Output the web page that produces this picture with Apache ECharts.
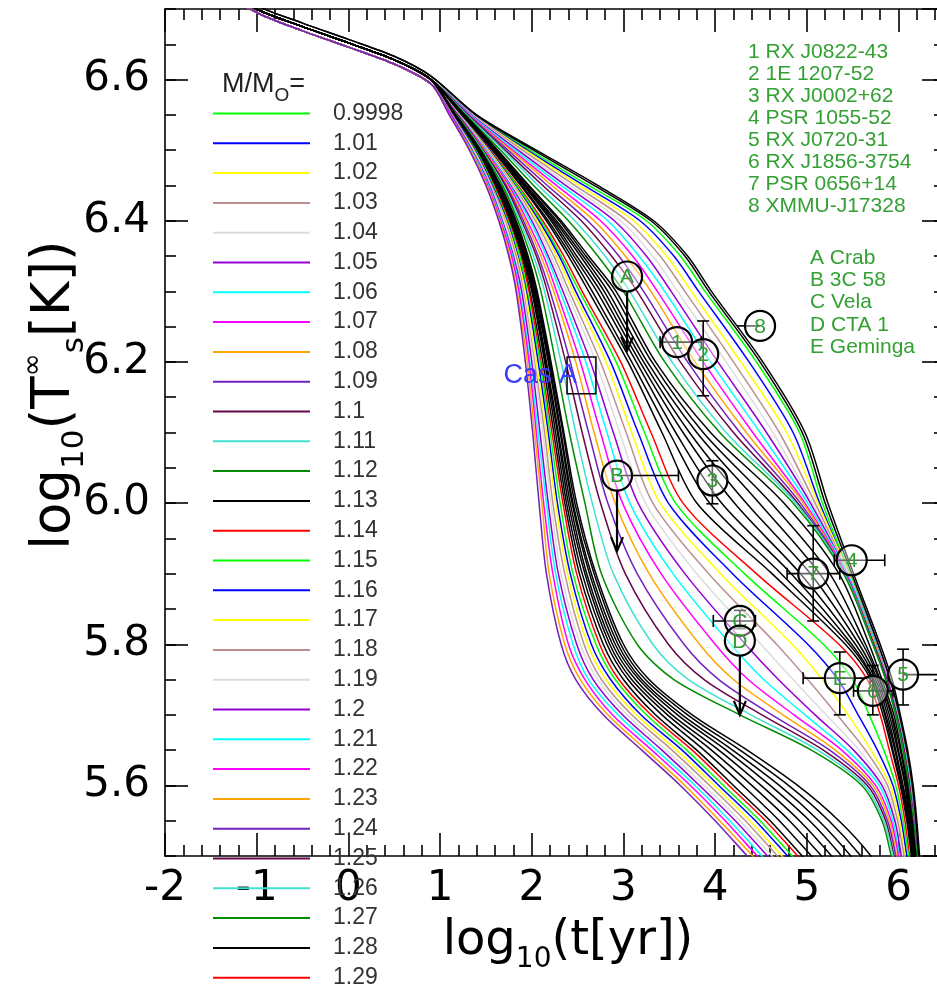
<!DOCTYPE html>
<html>
<head>
<meta charset="utf-8">
<script src="https://cdn.jsdelivr.net/npm/echarts@6/dist/echarts.min.js"></script>
<style>
  html, body { margin: 0; padding: 0; background: #ffffff; }
  #chart { width: 937px; height: 984px; }
</style>
</head>
<body>
<div id="chart"></div>
<script>
// Stellar masses of the cooling tracks (legend order)
const massLabels = ['0.9998','1.01','1.02','1.03','1.04','1.05','1.06','1.07','1.08','1.09',
  '1.1','1.11','1.12','1.13','1.14','1.15','1.16','1.17','1.18','1.19',
  '1.2','1.21','1.22','1.23','1.24','1.25','1.26','1.27','1.28','1.29',
  '1.3','1.31','1.32','1.33','1.34','1.35','1.36','1.37','1.38','1.39'];

// Grace-style colour cycle used for successive tracks
const colorCycle = ['#00ff00','#0000ff','#ffff00','#bc8f8f','#dcdcdc','#9400d3','#00ffff',
  '#ff00ff','#ffa500','#7221bc','#670748','#40e0d0','#008b00','#000000','#ff0000'];

// Axis tick values
const xMajorTicks = [-2, -1, 0, 1, 2, 3, 4, 5, 6];

// Surface temperature levels, log10(Ts) [K]
const tempLevels = [6.55, 6.50, 6.45, 6.40, 6.35, 6.30, 6.20, 6.10, 6.00, 5.90,
  5.80, 5.75, 5.70, 5.65, 5.60, 5.55, 5.50, 5.45];

// Common early (isothermal-crust) part: upper, middle and lower edge of the band
const trunkLogT       = [-2.0, -1.5, -1.0, -0.5, 0.0, 0.5, 0.9];
const trunkTsUpper    = [6.796, 6.748, 6.705, 6.680, 6.657, 6.633, 6.605];
const trunkTsMiddle   = [6.790, 6.742, 6.700, 6.675, 6.652, 6.628, 6.600];
const trunkTsLower    = [6.784, 6.736, 6.695, 6.669, 6.646, 6.622, 6.594];

// log10(age/yr) at which each track reaches each temperature level
const bundleAges = [
  [1.38,1.98,2.62,3.25,3.62,3.89,4.45,4.92,5.17,5.47,5.77,5.90,6.00,6.08,6.14,6.18,6.22,6.25],
  [1.37,1.95,2.57,3.18,3.55,3.82,4.37,4.85,5.14,5.46,5.77,5.90,6.00,6.08,6.14,6.18,6.22,6.25],
  [1.36,1.93,2.52,3.11,3.47,3.74,4.28,4.78,5.12,5.46,5.76,5.89,6.00,6.08,6.14,6.18,6.22,6.25],
  [1.36,1.90,2.47,3.04,3.40,3.67,4.20,4.70,5.09,5.45,5.76,5.89,5.99,6.07,6.13,6.18,6.22,6.25],
  [1.35,1.87,2.42,2.97,3.32,3.59,4.12,4.63,5.06,5.45,5.75,5.89,5.99,6.07,6.13,6.17,6.21,6.25],
  [1.34,1.85,2.37,2.90,3.25,3.52,4.03,4.56,5.04,5.44,5.75,5.88,5.99,6.07,6.13,6.17,6.21,6.25],
  [1.33,1.82,2.32,2.83,3.17,3.45,3.95,4.49,5.01,5.44,5.75,5.88,5.99,6.07,6.13,6.17,6.21,6.25],
  [1.32,1.79,2.27,2.75,3.10,3.37,3.87,4.41,4.98,5.43,5.74,5.88,5.98,6.06,6.12,6.17,6.21,6.24],
  [1.31,1.77,2.22,2.68,3.02,3.30,3.78,4.34,4.96,5.42,5.74,5.87,5.98,6.06,6.12,6.17,6.21,6.24],
  [1.31,1.74,2.17,2.61,2.95,3.22,3.70,4.27,4.93,5.42,5.73,5.87,5.98,6.06,6.12,6.17,6.21,6.24],
  [1.30,1.71,2.12,2.54,2.87,3.15,3.62,4.20,4.90,5.41,5.73,5.87,5.98,6.06,6.12,6.16,6.20,6.24],
  [1.29,1.69,2.07,2.47,2.80,3.07,3.53,4.12,4.88,5.41,5.72,5.86,5.97,6.05,6.11,6.16,6.20,6.24],
  [1.28,1.66,2.02,2.40,2.72,3.00,3.45,4.05,4.85,5.40,5.72,5.86,5.97,6.05,6.11,6.16,6.20,6.24]
];
const midAges = [
  [1.23,1.57,1.88,2.16,2.40,2.62,3.05,3.42,3.80,4.62,5.42,5.70,5.83,5.93,6.02,6.09,6.14,6.19],
  [1.22,1.55,1.85,2.12,2.35,2.55,2.97,3.30,3.65,4.45,5.35,5.66,5.80,5.90,6.00,6.07,6.12,6.17],
  [1.22,1.54,1.84,2.10,2.32,2.52,2.92,3.23,3.57,4.32,5.18,5.50,5.68,5.84,5.97,6.05,6.11,6.16],
  [1.21,1.54,1.82,2.08,2.30,2.48,2.86,3.16,3.49,4.19,5.01,5.34,5.56,5.77,5.94,6.03,6.09,6.14],
  [1.21,1.53,1.81,2.06,2.27,2.45,2.81,3.09,3.40,4.06,4.84,5.17,5.45,5.70,5.91,6.01,6.07,6.13],
  [1.21,1.52,1.80,2.04,2.24,2.41,2.75,3.03,3.32,3.93,4.67,5.01,5.33,5.64,5.88,5.99,6.06,6.12],
  [1.21,1.51,1.79,2.02,2.21,2.38,2.70,2.96,3.24,3.80,4.50,4.85,5.21,5.57,5.85,5.97,6.04,6.11],
  [1.20,1.50,1.77,2.00,2.18,2.34,2.64,2.89,3.16,3.67,4.33,4.69,5.09,5.51,5.82,5.96,6.03,6.09],
  [1.20,1.50,1.76,1.98,2.16,2.31,2.59,2.82,3.07,3.54,4.17,4.53,4.98,5.44,5.79,5.94,6.01,6.08],
  [1.20,1.49,1.75,1.95,2.13,2.27,2.53,2.75,2.99,3.41,4.00,4.36,4.86,5.38,5.75,5.92,6.00,6.07],
  [1.19,1.48,1.73,1.93,2.10,2.24,2.48,2.68,2.91,3.28,3.83,4.20,4.74,5.31,5.72,5.90,5.98,6.05],
  [1.19,1.47,1.72,1.91,2.07,2.20,2.42,2.62,2.83,3.15,3.66,4.04,4.62,5.25,5.69,5.88,5.97,6.04],
  [1.19,1.47,1.71,1.89,2.05,2.17,2.37,2.55,2.75,3.02,3.49,3.88,4.51,5.18,5.66,5.86,5.95,6.03],
  [1.18,1.46,1.69,1.87,2.02,2.14,2.32,2.48,2.66,2.89,3.32,3.71,4.39,5.12,5.63,5.84,5.94,6.01],
  [1.18,1.45,1.68,1.85,1.99,2.10,2.26,2.41,2.58,2.76,3.15,3.55,4.27,5.05,5.60,5.82,5.92,6.00]
];
const fastAges = [
  [1.15,1.40,1.60,1.76,1.89,1.98,2.12,2.24,2.36,2.52,2.78,3.00,3.35,3.80,4.20,4.60,4.95,5.30],
  [1.15,1.39,1.59,1.75,1.88,1.97,2.10,2.22,2.34,2.49,2.74,2.95,3.30,3.75,4.15,4.55,4.90,5.25],
  [1.14,1.39,1.58,1.74,1.87,1.95,2.09,2.20,2.31,2.45,2.70,2.91,3.25,3.69,4.09,4.49,4.84,5.19],
  [1.14,1.38,1.57,1.73,1.85,1.94,2.07,2.18,2.28,2.42,2.65,2.86,3.19,3.64,4.04,4.44,4.79,5.14],
  [1.13,1.37,1.56,1.72,1.84,1.93,2.05,2.16,2.26,2.39,2.61,2.81,3.14,3.58,3.99,4.38,4.73,5.08],
  [1.13,1.36,1.56,1.71,1.83,1.91,2.03,2.14,2.23,2.36,2.57,2.76,3.09,3.53,3.94,4.33,4.68,5.03],
  [1.12,1.36,1.55,1.70,1.81,1.90,2.02,2.12,2.21,2.32,2.53,2.72,3.04,3.47,3.88,4.27,4.62,4.97],
  [1.12,1.35,1.54,1.68,1.80,1.89,2.00,2.09,2.18,2.29,2.49,2.67,2.99,3.42,3.83,4.22,4.57,4.92],
  [1.11,1.34,1.53,1.67,1.79,1.87,1.98,2.07,2.16,2.26,2.45,2.62,2.94,3.36,3.78,4.16,4.51,4.86],
  [1.11,1.33,1.52,1.66,1.78,1.86,1.97,2.05,2.13,2.23,2.40,2.58,2.88,3.31,3.73,4.11,4.46,4.81],
  [1.10,1.33,1.51,1.65,1.76,1.84,1.95,2.03,2.11,2.19,2.36,2.53,2.83,3.25,3.67,4.05,4.41,4.76],
  [1.10,1.32,1.50,1.64,1.75,1.83,1.93,2.01,2.08,2.16,2.32,2.48,2.78,3.20,3.62,4.00,4.35,4.70]
];
// Intermediate-mass tracks drawn in black (not listed in the key)
const blackAges = [
  [1.16,1.41,1.61,1.77,1.90,2.00,2.14,2.26,2.38,2.55,2.82,3.05,3.42,3.88,4.30,4.70,5.05,5.40],
  [1.16,1.42,1.62,1.78,1.91,2.01,2.15,2.28,2.40,2.58,2.85,3.09,3.48,3.96,4.40,4.81,5.16,5.49],
  [1.16,1.42,1.63,1.79,1.92,2.02,2.16,2.29,2.42,2.60,2.88,3.13,3.53,4.04,4.50,4.92,5.27,5.58],
  [1.17,1.43,1.64,1.80,1.93,2.03,2.18,2.31,2.44,2.63,2.91,3.17,3.59,4.12,4.60,5.03,5.38,5.68],
  [1.17,1.43,1.64,1.81,1.94,2.04,2.19,2.32,2.45,2.65,2.94,3.20,3.64,4.19,4.70,5.13,5.48,5.77],
  [1.17,1.44,1.65,1.82,1.95,2.05,2.20,2.34,2.47,2.68,2.97,3.24,3.70,4.27,4.80,5.24,5.59,5.86],
  [1.17,1.44,1.66,1.83,1.96,2.06,2.21,2.35,2.49,2.70,3.00,3.28,3.75,4.35,4.90,5.35,5.70,5.95],
  [1.24,1.58,1.89,2.18,2.43,2.66,3.09,3.50,3.94,4.72,5.46,5.72,5.85,5.94,6.03,6.10,6.15,6.20],
  [1.24,1.59,1.91,2.21,2.46,2.71,3.14,3.57,4.07,4.83,5.49,5.73,5.86,5.96,6.04,6.11,6.15,6.20],
  [1.25,1.60,1.92,2.23,2.49,2.75,3.18,3.65,4.21,4.93,5.53,5.75,5.88,5.97,6.05,6.12,6.16,6.21],
  [1.25,1.60,1.93,2.25,2.53,2.79,3.22,3.72,4.34,5.04,5.57,5.77,5.90,5.99,6.07,6.12,6.17,6.21],
  [1.26,1.61,1.94,2.27,2.56,2.83,3.26,3.80,4.48,5.14,5.61,5.79,5.92,6.00,6.08,6.13,6.18,6.22],
  [1.26,1.62,1.96,2.30,2.59,2.88,3.31,3.87,4.61,5.25,5.64,5.80,5.93,6.02,6.09,6.14,6.18,6.22],
  [1.27,1.63,1.97,2.32,2.62,2.92,3.35,3.95,4.75,5.35,5.68,5.82,5.95,6.03,6.10,6.15,6.19,6.23],
  [1.39,2.02,2.68,3.30,3.67,3.93,4.49,4.95,5.20,5.49,5.78,5.91,6.01,6.09,6.15,6.19,6.22,6.25],
  [1.40,2.05,2.72,3.33,3.70,3.96,4.52,4.98,5.23,5.51,5.80,5.93,6.02,6.10,6.16,6.20,6.23,6.26]
];

// Observed sources: age, temperature, error ranges and upper limits
const obsNames   = ['A','1','2','8','B','3','4','7','C','D','E','6','5'];
const obsAge     = [3.04, 3.585, 3.87, 4.49, 2.93, 3.97, 5.49, 5.07, 4.27, 4.27, 5.36, 5.72, 6.05];
const obsTemp    = [6.321, 6.228, 6.211, 6.251, 6.039, 6.032, 5.919, 5.900, 5.833, 5.805, 5.752, 5.734, 5.757];
const obsAgeLo   = [null, 3.40, null, 4.24, null, null, 5.30, 4.785, 3.98, null, 4.96, 5.51, null];
const obsAgeHi   = [null, 3.85, null, null, 3.60, null, 5.85, 5.36, 4.44, null, 5.69, 5.94, 6.60];
const obsTempLo  = [null, null, 6.152, null, null, 5.999, null, 5.833, 5.822, null, 5.700, 5.700, 5.714];
const obsTempHi  = [null, null, 6.258, null, null, 6.060, null, 5.968, 5.848, null, 5.789, 5.770, 5.793];
const obsUpperTo = [6.216, null, null, null, 5.932, null, null, null, null, 5.700, null, null, null];
const obsCapped  = [true, true, true, false, true, true, true, true, true, true, true, true, true];

// Cas A box
const casAAge  = [2.385, 2.70];
const casATemp = [6.155, 6.207];

// Source key texts
const pulsarKey = ['1 RX J0822-43', '2 1E 1207-52', '3 RX J0002+62', '4 PSR 1055-52',
  '5 RX J0720-31', '6 RX J1856-3754', '7 PSR 0656+14', '8 XMMU-J17328'];
const remnantKey = ['A Crab', 'B 3C 58', 'C Vela', 'D CTA 1', 'E Geminga'];

function track(ages, trunkTs) {
  const pts = trunkLogT.map((t, i) => [t, trunkTs[i]]);
  ages.forEach((a, i) => pts.push([a, tempLevels[i]]));
  return pts;
}

const series = [];
function addTrack(name, ages, trunkTs, color) {
  series.push({
    name: name, type: 'line', data: track(ages, trunkTs), showSymbol: false,
    smooth: 0.3, silent: true, lineStyle: { width: 1.5, color: color }, itemStyle: { color: color }
  });
}
const labeledAges = bundleAges.concat(midAges, fastAges);
labeledAges.forEach((ages, i) => {
  const trunkTs = i < bundleAges.length ? trunkTsMiddle : trunkTsLower;
  addTrack(massLabels[i], ages, trunkTs, colorCycle[i % colorCycle.length]);
});
blackAges.forEach((ages, j) => {
  addTrack('intermediate-' + j, ages, j < 14 ? trunkTsMiddle : trunkTsUpper, '#000000');
});

// Observations: error bars, upper-limit arrows, circled labels
series.push({
  type: 'custom', clip: false, silent: true, z: 20,
  data: obsAge.map((t, i) => [t, obsTemp[i]]),
  renderItem: function (params, api) {
    const i = params.dataIndex;
    const c = api.coord([obsAge[i], obsTemp[i]]);
    const kids = [];
    const st = { stroke: '#000', lineWidth: 1.6 };
    const cap = 6;
    if (obsAgeLo[i] !== null || obsAgeHi[i] !== null) {
      const lo = api.coord([obsAgeLo[i] !== null ? obsAgeLo[i] : obsAge[i], obsTemp[i]])[0];
      const hi = api.coord([obsAgeHi[i] !== null ? obsAgeHi[i] : obsAge[i], obsTemp[i]])[0];
      kids.push({ type: 'line', shape: { x1: lo, y1: c[1], x2: hi, y2: c[1] }, style: st });
      if (obsCapped[i] && obsAgeLo[i] !== null) kids.push({ type: 'line', shape: { x1: lo, y1: c[1] - cap, x2: lo, y2: c[1] + cap }, style: st });
      if (obsCapped[i] && obsAgeHi[i] !== null) kids.push({ type: 'line', shape: { x1: hi, y1: c[1] - cap, x2: hi, y2: c[1] + cap }, style: st });
    }
    if (obsTempLo[i] !== null) {
      const lo = api.coord([obsAge[i], obsTempLo[i]])[1];
      const hi = api.coord([obsAge[i], obsTempHi[i]])[1];
      kids.push({ type: 'line', shape: { x1: c[0], y1: lo, x2: c[0], y2: hi }, style: st });
      kids.push({ type: 'line', shape: { x1: c[0] - cap, y1: lo, x2: c[0] + cap, y2: lo }, style: st });
      kids.push({ type: 'line', shape: { x1: c[0] - cap, y1: hi, x2: c[0] + cap, y2: hi }, style: st });
    }
    if (obsUpperTo[i] !== null) {
      const tip = api.coord([obsAge[i], obsUpperTo[i]])[1];
      kids.push({ type: 'line', shape: { x1: c[0], y1: c[1] + 15, x2: c[0], y2: tip }, style: { stroke: '#000', lineWidth: 2.2 } });
      kids.push({ type: 'polyline', shape: { points: [[c[0] - 6, tip - 14], [c[0], tip], [c[0] + 6, tip - 14]] },
        style: { stroke: '#000', lineWidth: 2.2, fill: null } });
    }
    kids.push({ type: 'circle', shape: { cx: c[0], cy: c[1], r: 15 },
      style: { fill: 'rgba(255,255,255,0.4)', stroke: '#000', lineWidth: 2.2 } });
    kids.push({ type: 'text', x: c[0], y: c[1] + 1,
      style: { text: obsNames[i], align: 'center', verticalAlign: 'middle',
        fill: '#2e9e2e', font: '21px "Liberation Sans", Arial, sans-serif' } });
    return { type: 'group', children: kids };
  }
});

// Cas A age/temperature box
series.push({
  type: 'custom', clip: false, silent: true, z: 19,
  data: [[casAAge[0], casATemp[0], casAAge[1], casATemp[1]]],
  renderItem: function (params, api) {
    const p0 = api.coord([api.value(0), api.value(3)]);
    const p1 = api.coord([api.value(2), api.value(1)]);
    return { type: 'group', children: [
      { type: 'rect', shape: { x: p0[0], y: p0[1], width: p1[0] - p0[0], height: p1[1] - p0[1] },
        style: { fill: null, stroke: '#000', lineWidth: 1.5 } },
      { type: 'text', x: p0[0] + 10, y: (p0[1] + p1[1]) / 2,
        style: { text: 'Cas A', align: 'right', verticalAlign: 'middle', fill: '#3a3aff',
          font: '27px "Liberation Sans", Arial, sans-serif' } }
    ] };
  }
});

const tickFont = 'DejaVu Sans';
const xMinorTicks = [];
for (let k = 0; k <= 42; k++) {
  const v = Math.round((-2 + 0.2 * k) * 10) / 10;
  if (xMajorTicks.indexOf(v) < 0) xMinorTicks.push(v);
}
const X_MIN = -2, X_MAX = 6.42;
function xMajor(pos, labels) {
  return {
    type: 'value', position: pos, min: X_MIN, max: X_MAX,
    axisLine: { show: true, onZero: false, lineStyle: { color: '#000', width: 1.6 } },
    axisTick: { show: true, inside: true, length: 23, customValues: xMajorTicks, lineStyle: { color: '#000', width: 1.6 } },
    splitLine: { show: false },
    axisLabel: { show: labels, customValues: xMajorTicks, margin: 12, fontSize: 42, fontFamily: tickFont, color: '#000' }
  };
}
function xMinor(pos) {
  return {
    type: 'value', position: pos, min: X_MIN, max: X_MAX,
    axisLine: { show: false, onZero: false },
    axisTick: { show: true, inside: true, length: 11, customValues: xMinorTicks, lineStyle: { color: '#000', width: 1.6 } },
    splitLine: { show: false }, axisLabel: { show: false }
  };
}
function yMajor(pos, labels) {
  return {
    type: 'value', position: pos, offset: pos === 'right' ? 8 : 0, min: 5.5, max: 6.7, splitNumber: 6,
    axisLine: { show: true, onZero: false, lineStyle: { color: '#000', width: 1.6 } },
    axisTick: { show: true, inside: true, length: 23, lineStyle: { color: '#000', width: 1.6 } },
    splitLine: { show: false },
    axisLabel: { show: labels, margin: 15, fontSize: 42, fontFamily: tickFont, color: '#000',
      showMinLabel: false, showMaxLabel: false, formatter: v => v.toFixed(1) }
  };
}
function yMinor(pos) {
  return {
    type: 'value', position: pos, offset: pos === 'right' ? 8 : 0, min: 5.5, max: 6.7, interval: 0.05,
    axisLine: { show: false, onZero: false },
    axisTick: { show: true, inside: true, length: 11, lineStyle: { color: '#000', width: 1.6 } },
    splitLine: { show: false }, axisLabel: { show: false }
  };
}

const chart = echarts.init(document.getElementById('chart'), null, { renderer: 'canvas' });
chart.setOption({
  animation: false,
  backgroundColor: '#ffffff',
  grid: { left: 165, top: 9, right: 0, height: 847, containLabel: false },
  xAxis: [xMajor('bottom', true), xMajor('top', false), xMinor('bottom'), xMinor('top')],
  yAxis: [yMajor('left', true), yMinor('left'), yMajor('right', false), yMinor('right')],
  legend: {
    data: massLabels, orient: 'vertical', left: 208, top: 97, height: 1400,
    itemWidth: 97, itemHeight: 2, itemGap: 6.8, icon: 'rect', selectedMode: false,
    textStyle: { fontFamily: 'Liberation Sans', fontSize: 23, color: '#333', padding: [0, 0, 0, 18] },
    z: 30
  },
  graphic: [
    { type: 'text', x: 222, y: 85, z: 40,
      style: { text: '{m|M/M}{s|O}{m|=}', verticalAlign: 'middle',
        rich: { m: { fontSize: 27, fontFamily: 'Liberation Sans', fill: '#222', lineHeight: 40 },
                s: { fontSize: 19, fontFamily: 'Liberation Sans', fill: '#222', verticalAlign: 'bottom' } } } },
    { type: 'text', x: 568, y: 942, z: 40,
      style: { text: '{m|log}{s|10}{m|(t[yr])}', align: 'center', verticalAlign: 'middle',
        rich: { m: { fontSize: 48, fontFamily: 'DejaVu Sans', fill: '#000', lineHeight: 64 },
                s: { fontSize: 28, fontFamily: 'DejaVu Sans', fill: '#000', verticalAlign: 'bottom' } } } },
    { type: 'text', x: 55, y: 395, rotation: Math.PI / 2, z: 40,
      style: { text: '{m|log}{s|10}{m|(T}{p|∞}{s|s}{m|[K])}', align: 'center', verticalAlign: 'middle',
        rich: { m: { fontSize: 53, fontFamily: 'DejaVu Sans', fill: '#000', lineHeight: 70 },
                s: { fontSize: 31, fontFamily: 'DejaVu Sans', fill: '#000', verticalAlign: 'bottom' },
                p: { fontSize: 28, fontFamily: 'DejaVu Sans', fill: '#000', verticalAlign: 'top' } } } }
  ].concat(pulsarKey.map((t, i) => ({
    type: 'text', x: 748, y: 52 + 22.1 * i, z: 40,
    style: { text: t, verticalAlign: 'middle', fill: '#33a033', font: '21px "Liberation Sans", Arial, sans-serif' }
  }))).concat(remnantKey.map((t, i) => ({
    type: 'text', x: 810, y: 258 + 22.3 * i, z: 40,
    style: { text: t, verticalAlign: 'middle', fill: '#33a033', font: '21px "Liberation Sans", Arial, sans-serif' }
  }))),
  series: series
});
</script>
</body>
</html>
